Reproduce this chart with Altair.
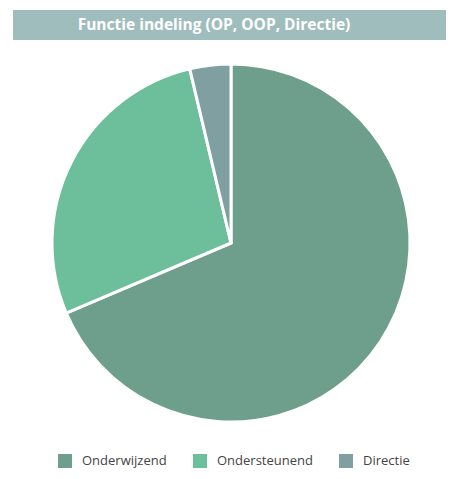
import altair as alt
import pandas as pd

categories = ["Onderwijzend", "Ondersteunend", "Directie"]
values = [68.6, 27.7, 3.7]
colors = ["#6e9e8c", "#6dbf9b", "#7f9fa0"]
title_text = "Functie indeling (OP, OOP, Directie)"

df = pd.DataFrame({"cat": categories, "value": values, "order": list(range(len(categories)))})

pie = alt.Chart(df).mark_arc(radius=179, stroke="white", strokeWidth=3).encode(
    theta=alt.Theta("value:Q", stack=True),
    color=alt.Color(
        "cat:N",
        scale=alt.Scale(domain=categories, range=colors),
        legend=alt.Legend(
            orient="none", legendX=50, legendY=446, direction="horizontal", title=None,
            symbolType="square", symbolSize=196, symbolStrokeWidth=0,
            labelFontSize=13, labelFont="Open Sans", labelColor="#444444",
            columnPadding=26, labelOffset=10,
        ),
    ),
    order=alt.Order("order:Q"),
    x=alt.value(223),
    y=alt.value(235),
)

tdf = pd.DataFrame({"t": [title_text]})
bar = alt.Chart(tdf).mark_rect(color="#a0bdbe").encode(
    x=alt.value(5), x2=alt.value(438), y=alt.value(2), y2=alt.value(32)
)
txt = alt.Chart(tdf).mark_text(
    font="Open Sans", fontSize=15.5, fontWeight="bold", color="white", align="center", baseline="middle"
).encode(text="t:N", x=alt.value(206), y=alt.value(17))

chart = alt.layer(bar, txt, pie).properties(
    width=438, height=463, autosize=alt.AutoSizeParams(type="none"), padding=0
).configure_view(stroke=None)

chart.save("out.html", embed_options={"renderer": "svg", "actions": False})
